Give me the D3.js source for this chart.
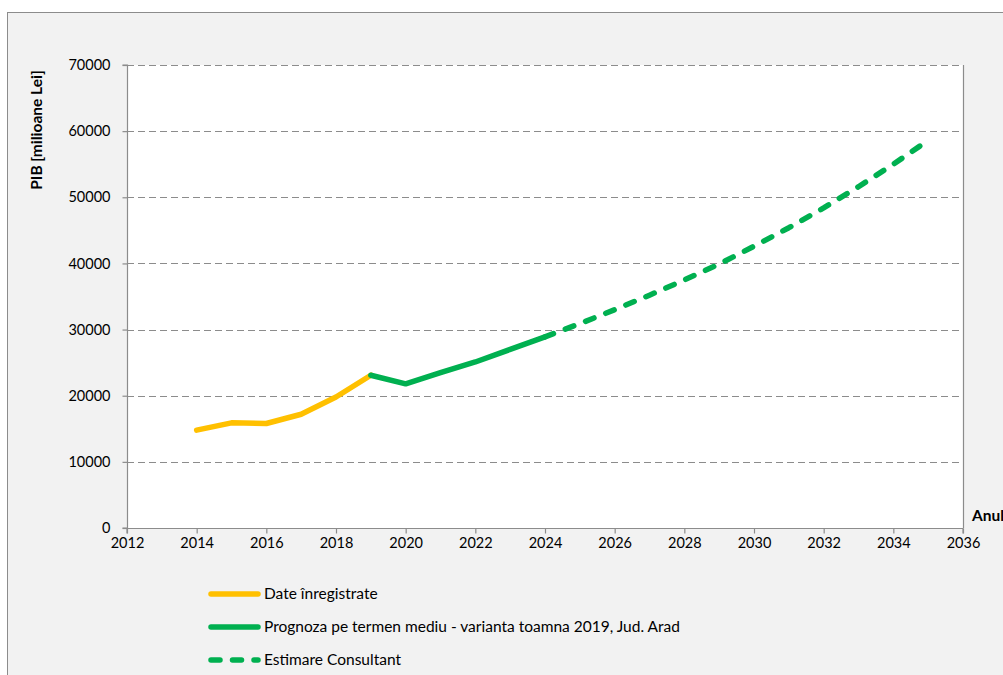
<!DOCTYPE html>
<html>
<head>
<meta charset="utf-8">
<script src="https://cdn.jsdelivr.net/npm/d3@7"></script>
<style>
  html, body { margin: 0; padding: 0; background: #ffffff; }
  svg { display: block; }
  text { font-family: Lato, "Open Sans", sans-serif; fill: #000; }
</style>
</head>
<body>
<svg id="chart" width="1003" height="675"></svg>
<script>
// ---- data ----
const recordedYears  = [2014, 2015, 2016, 2017, 2018, 2019];
const recordedValues = [14800, 15900, 15800, 17200, 19800, 23100];

const forecastYears  = [2019, 2020, 2021, 2022, 2023, 2024];
const forecastValues = [23100, 21800, 23500, 25100, 27000, 28900];

const estimateYears  = [2024, 2025, 2026, 2027, 2028, 2029, 2030, 2031, 2032, 2033, 2034, 2035];
const estimateValues = [28900, 30900, 33000, 35200, 37500, 39900, 42600, 45400, 48400, 51600, 55000, 58600];

const xTicks = [2012, 2014, 2016, 2018, 2020, 2022, 2024, 2026, 2028, 2030, 2032, 2034, 2036];
const yTicks = [0, 10000, 20000, 30000, 40000, 50000, 60000, 70000];

const seriesNames = [
  "Date înregistrate",
  "Prognoza pe termen mediu - varianta toamna 2019, Jud. Arad",
  "Estimare Consultant"
];
const yAxisTitle = "PIB [milioane Lei]";
const xAxisTitle = "Anul";

// ---- layout ----
const svg = d3.select("#chart");
const W = 1003, H = 675;
const plot = { left: 127, right: 963, top: 65, bottom: 528 };
const YELLOW = "#FFC000", GREEN = "#00B050", GRID = "#8c8c8c";

// outer chart area
svg.append("rect").attr("x", 7.5).attr("y", 12.5).attr("width", W + 20).attr("height", H + 20)
  .attr("fill", "#f2f2f2").attr("stroke", "#8c8c8c").attr("stroke-width", 1);

const x = d3.scaleLinear().domain([2012, 2036]).range([plot.left, plot.right]);
const y = d3.scaleLinear().domain([0, 70000]).range([plot.bottom, plot.top]);

// plot area
svg.append("rect").attr("x", plot.left).attr("y", plot.top)
  .attr("width", plot.right - plot.left).attr("height", plot.bottom - plot.top)
  .attr("fill", "#ffffff");

// gridlines
svg.append("g").selectAll("line").data(yTicks.filter(d => d > 0)).join("line")
  .attr("x1", plot.left).attr("x2", plot.right)
  .attr("y1", d => Math.round(y(d)) + 0.5).attr("y2", d => Math.round(y(d)) + 0.5)
  .attr("stroke", GRID).attr("stroke-width", 1.2).attr("stroke-dasharray", "7,4");

// right border of plot
svg.append("line").attr("x1", plot.right + 0.5).attr("x2", plot.right + 0.5)
  .attr("y1", plot.top).attr("y2", plot.bottom).attr("stroke", GRID).attr("stroke-width", 1.2);

// axes
const xAxis = d3.axisBottom(x).tickValues(xTicks).tickFormat(d3.format("d")).tickSize(5).tickPadding(4);
const yAxis = d3.axisLeft(y).tickValues(yTicks).tickFormat(d3.format("d")).tickSize(5).tickPadding(12);

const gx = svg.append("g").attr("transform", `translate(0,${plot.bottom + 0.5})`).call(xAxis);
const gy = svg.append("g").attr("transform", `translate(${plot.left + 0.5},0)`).call(yAxis);
[gx, gy].forEach(g => {
  g.select(".domain").attr("stroke", GRID).attr("stroke-width", 1.2);
  g.selectAll(".tick line").attr("stroke", GRID).attr("stroke-width", 1.2);
  g.selectAll(".tick text").attr("font-family", "Lato, 'Open Sans', sans-serif")
    .attr("font-size", 14.5).attr("fill", "#000");
});
gx.select(".domain").attr("d", `M${plot.left},5V0H${plot.right}V5`);
gy.select(".domain").attr("d", `M-5,${plot.bottom}H0V${plot.top}H-5`);

// lines
const line = d3.line().x(d => x(d[0])).y(d => y(d[1]));
const zip = (a, b) => a.map((v, i) => [v, b[i]]);

svg.append("path").datum(zip(recordedYears, recordedValues)).attr("d", line)
  .attr("fill", "none").attr("stroke", YELLOW).attr("stroke-width", 5.5)
  .attr("stroke-linecap", "round").attr("stroke-linejoin", "round");
svg.append("path").datum(zip(forecastYears, forecastValues)).attr("d", line)
  .attr("fill", "none").attr("stroke", GREEN).attr("stroke-width", 5.5)
  .attr("stroke-linecap", "round").attr("stroke-linejoin", "round");
const est = svg.append("path").datum(zip(estimateYears, estimateValues)).attr("d", line)
  .attr("fill", "none").attr("stroke", GREEN).attr("stroke-width", 5.5)
  .attr("stroke-linecap", "round").attr("stroke-linejoin", "round");
// fit the dash phase so the path ends inside a gap, as in the original
{
  const L = est.node().getTotalLength();
  const base = 21.5, endOff = 19;
  const n = Math.round(L / base - endOff / base);
  const s = L / ((n + endOff / base) * base);
  est.attr("stroke-dasharray", `${(9 * s).toFixed(2)},${(12.5 * s).toFixed(2)}`);
}

// axis titles
svg.append("text").attr("transform", "translate(42,130) rotate(-90)")
  .attr("text-anchor", "middle").attr("font-weight", "bold").attr("font-size", 15.5)
  .text(yAxisTitle);
svg.append("text").attr("x", 972).attr("y", 521)
  .attr("font-weight", "bold").attr("font-size", 15.5).text(xAxisTitle);

// legend
const legendY = [594, 627, 660];
const legendStyles = [
  { color: YELLOW, dash: null },
  { color: GREEN, dash: null },
  { color: GREEN, dash: "9,12.5" }
];
const lg = svg.append("g");
seriesNames.forEach((name, i) => {
  const yy = legendY[i];
  lg.append("line").attr("x1", 211).attr("x2", 258).attr("y1", yy).attr("y2", yy)
    .attr("stroke", legendStyles[i].color).attr("stroke-width", 5.5)
    .attr("stroke-linecap", "round")
    .attr("stroke-dasharray", legendStyles[i].dash);
  lg.append("text").attr("x", 264).attr("y", yy + 5)
    .attr("font-size", 15.5).text(name);
});
</script>
</body>
</html>
